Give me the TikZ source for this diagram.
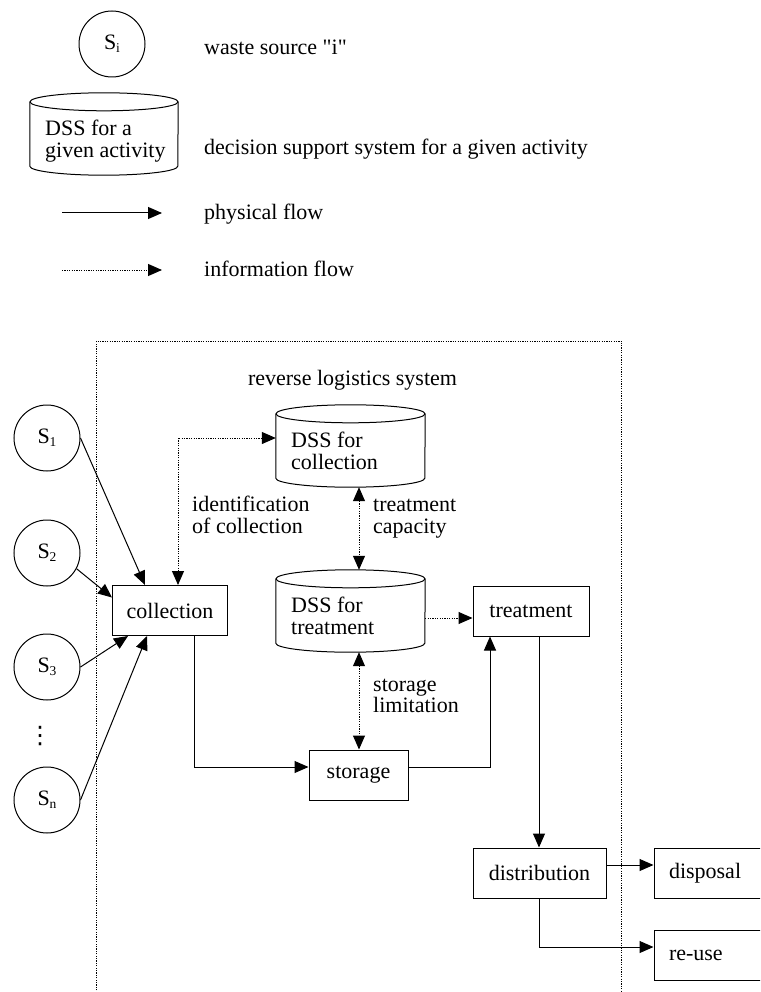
\documentclass[tikz,border=0pt]{standalone}
\usepackage{fontspec}
\setmainfont{Liberation Serif}
\newfontfamily\symfont{DejaVu Sans}
\usetikzlibrary{arrows.meta}
\newcommand\subs[1]{\raisebox{-0.3ex}{\fontsize{13.5}{13.5}\selectfont #1}}
\newcommand\cylof[2]{%
  \draw[base] ([yshift=-9pt]#1.north) ellipse [x radius=#2pt, y radius=9pt];
  \draw[base] ([yshift=-9pt]#1.north west) -- ([yshift=9pt]#1.south west)
     arc [start angle=180, end angle=360, x radius=#2pt, y radius=9pt]
     -- ([yshift=-9pt]#1.north east);
}
\tikzset{
  base/.style={line width=1pt, line join=miter},
  tip/.style={-{Triangle[length=14pt,width=12pt]}},
  phys/.style={base, tip},
  info/.style={base, dash pattern=on 1.2pt off 1.2pt},
  infoarr/.style={info, tip},
  infobi/.style={info, {Triangle[length=14pt,width=12pt]}-{Triangle[length=14pt,width=12pt]}},
  procbox/.style={draw, base, rectangle, inner sep=0pt, minimum height=50pt},
  sinkbox/.style={draw, base, rectangle, inner ysep=0pt, inner xsep=15pt, minimum height=50pt, text width=100pt, align=left},
  src/.style={draw, base, circle, inner sep=0pt, minimum size=66pt},
  lbl/.style={inner sep=0pt, align=left},
  cylframe/.style={inner sep=0pt, rectangle},
}
\begin{document}
\begin{tikzpicture}[x=1pt, y=-1pt, font=\fontsize{22pt}{21.5pt}\selectfont]
\clip (0,0) rectangle (760,992);

% ---------- legend ----------
\node[src] (legs) at (112,44) {S\subs{i}};
\node[lbl, anchor=base west] (legstxt) at (204,55) {waste source \textquotedbl i\textquotedbl};

\node[cylframe, minimum width=148pt, minimum height=82pt] (legdss) at (104,134) {};
\cylof{legdss}{74}
\node[lbl, anchor=west] (legdsstxt) at (45,141) {DSS for a\\given activity};
\node[lbl, anchor=base west] (legdsslbl) at (204,155) {decision support system for a given activity};

\coordinate (pf1) at (62,213);
\coordinate (pf2) at (162,213);
\draw[phys] (pf1) -- (pf2);
\node[lbl, anchor=base west] (pflbl) at (204,219) {physical flow};

\coordinate (if1) at (62,270);
\coordinate (if2) at (162,270);
\draw[infoarr] (if1) -- (if2);
\node[lbl, anchor=base west] (iflbl) at (204,276) {information flow};

% ---------- system frame ----------
\draw[info] (96.5,1000) -- (96.5,341) -- (621.5,341) -- (621.5,1000);
\node[lbl, anchor=base] (title) at (352.5,385) {reverse logistics system};

% ---------- sources ----------
\node[src] (s1) at (47,438) {S\subs{1}};
\node[src] (s2) at (47,553) {S\subs{2}};
\node[src] (s3) at (47,667) {S\subs{3}};
\node[lbl] (dots) at (40,736) {\symfont\fontsize{24pt}{24pt}\selectfont ⋮};
\node[src] (sn) at (47,800) {S\subs{n}};

% ---------- process boxes ----------
\node[procbox, minimum width=115pt] (coll) at (170,610.5) {collection};
\node[procbox, minimum width=116pt] (trt) at (531,611) {treatment};
\node[procbox, minimum width=99pt] (stor) at (358.5,775) {storage};
\node[procbox, minimum width=133pt] (dist) at (539.5,873) {distribution};
\node[sinkbox] (disp) at (719,873) {disposal};
\node[sinkbox] (reuse) at (719,955.5) {re-use};

% ---------- decision support systems ----------
\node[cylframe, minimum width=149pt, minimum height=82pt] (dssc) at (350.5,446) {};
\cylof{dssc}{74.5}
\node[lbl, anchor=west] (dssctxt) at (291,451) {DSS for\\collection};

\node[cylframe, minimum width=149pt, minimum height=82pt] (dsst) at (350.5,611) {};
\cylof{dsst}{74.5}
\node[lbl, anchor=west] (dssttxt) at (291,616) {DSS for\\treatment};

% ---------- information flow labels ----------
\node[lbl, anchor=west] (idlbl) at (192,515) {identification\\of collection};
\node[lbl, anchor=west] (caplbl) at (373,518.5) {treatment\\capacity};
\node[lbl, anchor=west] (limlbl) at (373,696) {storage\\limitation};

% ---------- physical flows ----------
\draw[phys] (s1.east) -- ([xshift=-25pt]coll.north);
\draw[phys] (s2.-28) -- ([yshift=13pt]coll.west);
\draw[phys] (s3.east) -- ([xshift=-42pt]coll.south);
\draw[phys] (sn.east) -- ([xshift=-23pt]coll.south);
\draw[phys] ([xshift=24pt]coll.south) |- ([yshift=8pt]stor.west);
\draw[phys] ([yshift=8pt]stor.east) -| ([xshift=-41pt]trt.south);
\draw[phys] ([xshift=8pt]trt.south) -- ([xshift=8pt]trt.south |- dist.north);
\draw[phys] ([yshift=8pt]dist.east) -- ([yshift=8pt]dist.east -| disp.west);
\draw[phys] (dist.south) |- ([yshift=8.5pt]reuse.west);

% ---------- information flows ----------
\draw[infobi] ([xshift=8pt]coll.north) |- ([yshift=8pt]dssc.west);
\draw[infobi] ([xshift=8.5pt]dssc.south) -- ([xshift=8.5pt]dsst.north);
\draw[infobi] ([xshift=8.5pt]dsst.south) -- ([xshift=8.5pt]dsst.south |- stor.north);
\draw[infoarr] ([yshift=-7pt]dsst.east) -- ([yshift=-7pt]dsst.east -| trt.west);
\end{tikzpicture}
\end{document}
